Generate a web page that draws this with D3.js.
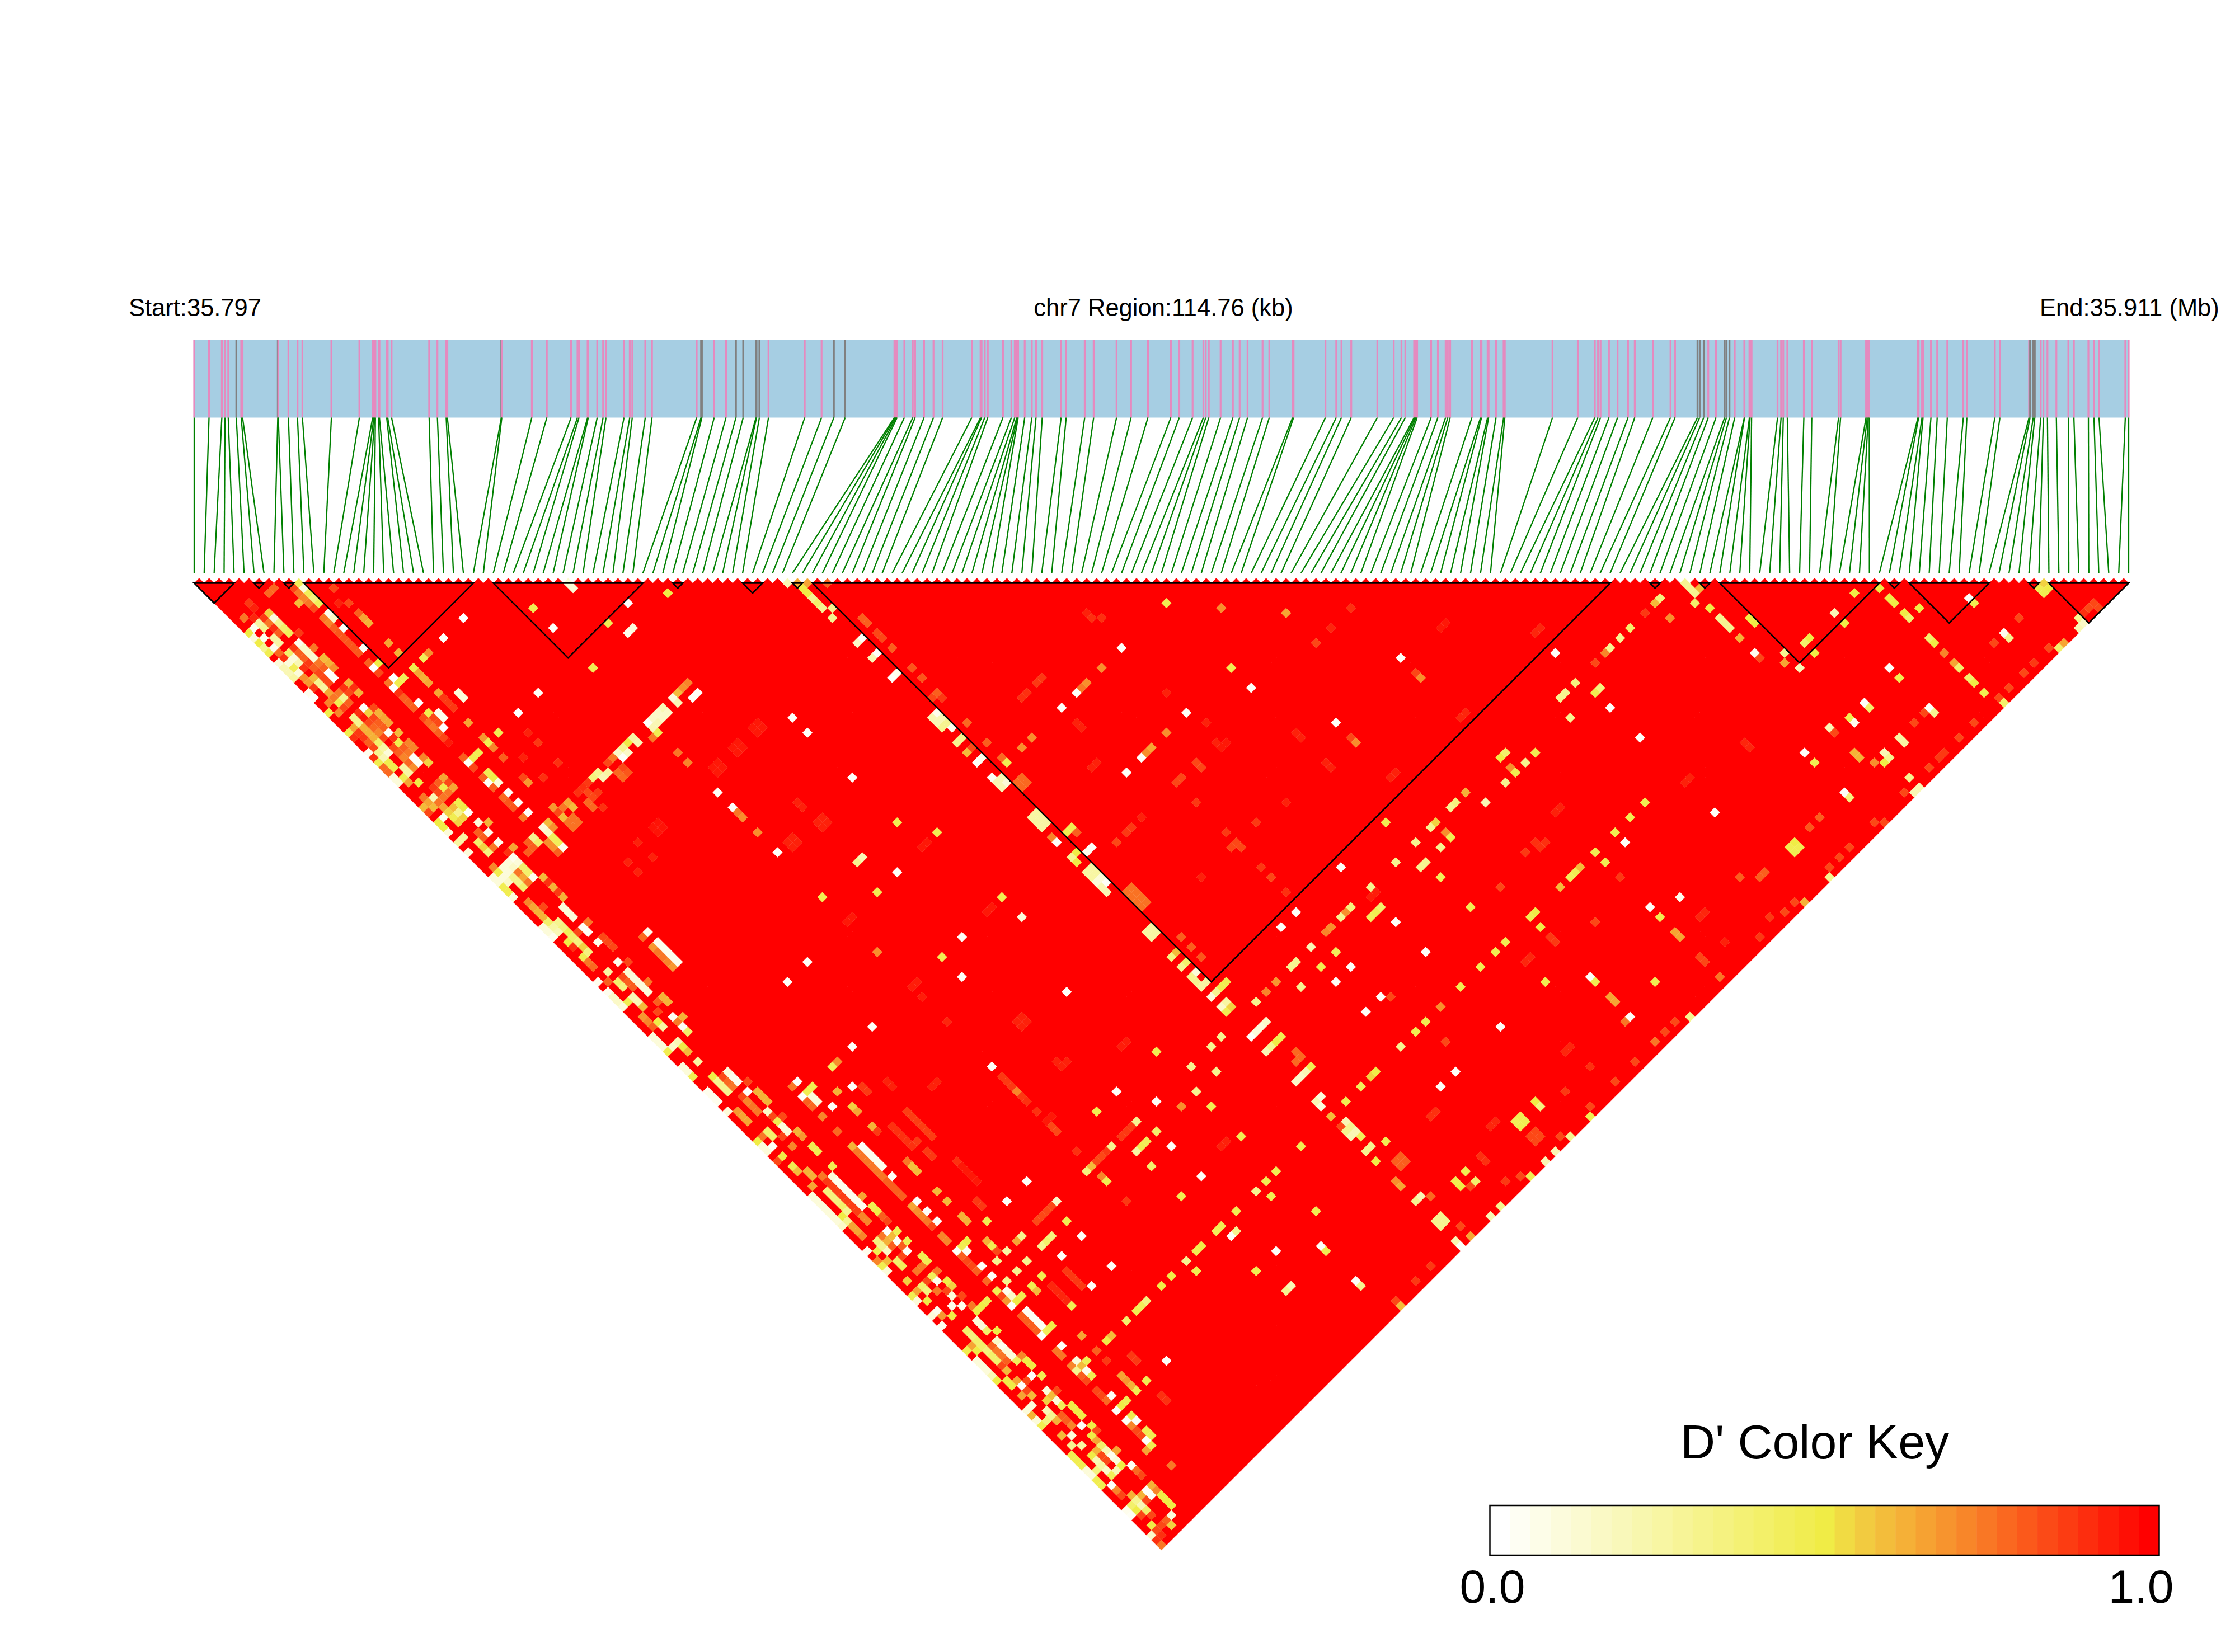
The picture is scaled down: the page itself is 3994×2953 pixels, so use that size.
<!DOCTYPE html>
<html><head><meta charset="utf-8">
<script src="https://cdn.jsdelivr.net/npm/d3@7/dist/d3.min.js"></script>
<style>html,body{margin:0;padding:0;background:#fff}text{font-family:"Liberation Sans",Arial,sans-serif;fill:#000}</style>
</head><body><svg id="c" width="3994" height="2953" xmlns="http://www.w3.org/2000/svg"></svg>
<script>
// SNP physical positions, kb from region start (read from the stripes)
const snpKb=[0,.88,1.64,1.83,2.02,2.5,2.79,2.87,4.96,4.99,5.59,6.13,6.42,8.14,9.8,10.59,10.66,10.71,10.75,10.94,10.99,11.42,11.48,11.71,13.94,14.43,14.95,15.02,18.22,18.25,20.03,20.92,22.36,22.74,22.83,
23.34,23.38,23.91,24.26,24.43,25.5,25.84,25.99,26.76,27.16,29.81,30.07,30.12,30.85,31.55,32.14,32.57,33.33,33.36,33.53,34.07,36.22,37.22,37.95,38.62,41.54,41.58,41.64,41.7,42.13,42.63,42.77,43.3,43.86,44.4,
46.13,46.65,46.71,46.9,47.08,47.98,48.48,48.68,48.8,48.84,48.88,49.27,49.69,49.94,50.31,51.43,51.73,52.83,53.36,54.72,55.58,56.58,57.94,58.44,59.23,59.87,60.01,60.19,60.89,61.62,62.02,62.49,63.38,63.78,65.16,65.22,67.11,67.75,68.06,68.64,
70.19,71.16,71.62,71.85,72.37,72.42,72.48,72.55,73.38,73.78,74.24,74.37,74.51,75.8,76.31,76.37,76.73,76.79,77.23,77.68,77.75,80.58,82.08,83.09,83.28,83.43,83.93,84.44,85.06,85.46,86.53,87.58,87.85,89.18,89.31,89.55,89.82,90.28,90.79,90.9,91.08,91.39,
91.96,91.97,92.26,92.3,92.39,93.93,94.14,94.27,94.51,95.49,95.96,97.55,97.67,99.18,99.25,99.31,99.37,102.26,102.3,102.5,102.56,103.03,103.4,104,104.95,105.16,106.82,107.12,108.85,108.91,109.1,109.19,109.54,109.7,109.94,110.47,111.18,111.51,112.37,112.7,113,114.56,114.76];
const graySnps=[5,8,28,46,47,50,51,52,53,54,58,59,143,144,145,148,149,150,181,182,183];
// LD block spans (SNP indices)
const blockStart=[0,6,9,11,30,48,55,60,62,146,151,153,170,172,184,186];
const blockEnd=[4,7,10,28,45,49,57,61,142,147,152,169,171,180,185,194];
// Every pair not listed reads as D'=1.0. Entries: [snpA, snpB, D']
const pairsTopLeft=[[6,9,.78],[7,9,.78],[10,11,.45],[9,11,.85],[10,12,.1],[9,12,.75],[10,13,.45],[9,13,.72],[10,14,.35],[8,13,.6],[9,14,.75],[10,15,.45],[9,15,.85],[13,15,.85],[12,17,.93],[13,18,.85],[10,17,.05],[10,18,.15],[9,17,.75],[9,18,.72],[10,20,.02],[9,19,.8],[9,20,.82],[9,21,.82],[9,22,.82],[9,23,.82],[9,24,.82],[10,24,.03],[13,20,.8],[13,21,.65],[13,22,.62],[13,26,.65],[13,28,.62],[16,31,.7],[15,31,.45],[23,31,0],[19,31,.02],[31,37,.47],[31,41,.02],[37,38,.12],[37,39,.12],[41,46,0],[37,46,.47],[38,49,.05],[39,49,.1],[46,49,.5],[31,49,.47],[23,46,.02],[19,46,0],[15,46,.47],[13,42,.65],[13,36,.65],[13,37,.88],[13,38,.88],[13,39,.88],[15,38,.1],[15,39,.1],[13,31,.48],[13,32,.65],[13,33,.62],[13,34,.65],[10,30,0],[11,31,.45],[10,31,.48],[9,30,.75],[9,31,0],[9,27,0],[10,27,.5],[9,26,.8],[9,28,.85],[9,32,.9],[9,33,.8],[9,34,.8],[9,35,.8],[10,35,0],[10,37,.48],[9,37,.85],[9,38,.78],[9,39,.75],[9,40,.8],[9,41,.85],[9,42,.95],[11,38,.05],[11,39,.05],[10,38,.85],[10,39,.85],[10,40,0],[13,45,.68],[13,46,.47],[13,47,.72],[11,46,.47],[10,46,.47],[9,46,.02],[9,45,.8],[9,47,.85],[13,49,.8],[15,51,.93],[18,49,.93],[18,51,.88],[18,55,.9],[10,49,.47],[10,50,.5],[9,49,.8],[9,50,.02],[10,51,.1],[9,51,.8],[13,53,.85],[13,54,.68],[15,55,.9],[10,53,.02],[9,53,.78],[9,54,.82],[9,55,.82],[10,55,.02],[10,57,.02],[9,57,.75],[39,60,.72],[38,60,.7],[37,60,.6],[36,60,.1],[36,61,.2],[34,60,.2],[34,61,.15],[33,60,.15],[33,61,.15],[32,60,.15],[32,61,.2],[31,60,.02],[31,61,.2],[31,62,.47],[30,62,.75],[31,66,.75],[31,68,.72],[28,60,.25],[28,61,.2],[27,60,.5],[26,60,.3],[25,60,.15],[25,61,.02],[26,61,.15],[24,60,.75],[23,60,.85],[21,60,.3],[21,61,.2],[20,60,.35],[22,61,.25],[23,62,.78],[23,63,.78],[24,63,.82],[24,62,.85],[17,60,.9],[18,60,.9],[19,60,.88],[18,61,.85],[19,62,.88],[18,62,.85],[17,62,.78],[17,63,.78],[18,64,.9],[15,60,.65],[15,61,.6],[14,60,.75],[13,59,.68],[13,60,.85],[13,61,.6],[11,60,.6],[10,60,.1],[10,61,.15],[11,61,.7],[14,62,.76],[13,62,.76],[14,63,.76],[13,63,.76],[8,60,.3],[8,61,.4],[7,60,.8],[7,61,.8],[10,62,.45],[10,63,.45],[9,62,.7],[9,63,.7],[10,64,.05],[9,64,.8],[6,61,.8]];
const pairsEdgeUpper=[[3,8,.88],[3,9,.93],[1,9,.75],[2,10,.92],[4,11,.55],[3,11,.88],[4,12,.1],[3,12,.75],[4,13,.3],[2,11,.25],[2,12,.3],[1,11,.05],[0,11,.5],[3,13,.9],[4,14,.4],[4,15,.45],[3,14,.8],[5,16,.88],[1,13,.05],[0,12,.1],[0,13,.5],[2,14,.25],[2,15,.25],[0,14,.3],[0,15,.47],[1,15,.05],[2,17,.4],[1,16,.78],[4,17,.05],[4,18,.15],[4,19,.15],[4,20,.12],[3,17,.88],[3,18,.8],[3,19,.8],[5,19,.75],[5,21,.6],[5,22,.62],[5,23,.7],[3,20,.88],[4,21,.75],[3,21,.8],[4,22,.8],[3,22,.85],[0,17,.1],[0,18,.2],[0,19,.2],[0,20,.25],[1,17,.9],[1,18,.1],[1,19,.45],[2,19,.2],[2,20,.9],[1,20,.1],[2,18,.1],[4,23,0],[4,24,.02],[3,23,.85],[3,24,.85],[1,21,.7],[1,22,.68],[2,22,.6],[2,23,.3],[2,24,.25],[2,25,.65],[1,23,.88],[0,23,.05],[0,24,.02],[1,26,.72],[2,26,.75],[2,27,.47],[3,27,.3],[3,26,.75],[4,27,.85],[5,26,.62],[5,27,.9],[5,28,.62],[4,26,.9],[3,28,.8],[2,28,.85],[0,27,.48],[1,28,.72],[4,30,.02],[4,31,.55],[5,31,.85],[5,32,.62],[5,33,.65],[5,34,.65],[3,30,.9],[3,31,.95],[4,32,.85],[4,33,.8],[4,34,.8],[2,30,.3],[2,31,.3],[3,32,.85],[3,33,.78],[3,34,.72],[2,32,.62],[2,33,.62],[2,34,.62],[1,31,.65],[1,32,.88],[1,33,.88],[1,34,.8],[1,35,.85],[0,31,.47],[0,32,.9],[4,35,.02],[3,35,.85],[5,36,.6],[4,36,.9],[4,37,.48],[3,37,.85],[5,38,.72],[5,39,.72],[4,38,.8],[3,38,.8],[4,39,.75],[3,39,.72],[2,35,.4],[2,36,.25],[2,37,.1],[1,36,.3],[1,37,.2],[0,36,.9],[0,37,.47],[1,38,.48],[1,39,.48],[2,40,.25],[2,41,.25],[0,38,.78],[0,39,.78],[0,35,.05],[4,40,.02],[4,41,.03],[3,40,.78],[3,41,.7],[5,41,.72],[5,42,.55],[1,41,.47],[1,42,.65],[2,43,.5],[0,40,.1],[0,41,.1],[5,45,.65],[5,46,.85],[5,47,.65],[4,45,.8],[4,46,.48],[4,47,.75],[3,45,.88],[3,46,.85],[2,46,.2],[1,45,.75],[1,46,.65],[2,47,.75],[3,47,.75],[1,47,.6],[0,46,.6],[0,47,.85],[4,49,.48],[4,50,.5],[4,51,.02],[3,49,.6],[3,50,.3],[3,51,.55],[2,49,.55],[2,50,.47],[2,51,.55],[2,48,.65],[1,49,.05],[0,49,.5],[0,50,.5],[0,51,.1],[4,53,.1],[5,54,.62],[4,55,.05],[3,54,.8],[3,55,.8],[1,53,.25],[0,53,.25],[2,55,.4],[2,56,.55],[2,57,.35],[3,57,.75],[4,57,.05],[0,55,.1],[5,59,.65],[4,59,.9],[1,59,.72],[1,60,.48],[2,60,.1],[3,60,.1],[4,60,.05],[4,61,.1],[4,62,.4],[4,63,.4],[4,64,.05],[3,61,.15],[2,61,.1],[1,61,.1],[0,61,.1],[0,60,.1],[3,62,.75],[3,63,.65],[3,64,.75],[2,62,.3],[2,63,.3],[2,64,.4],[1,62,.15],[0,62,.47],[0,63,.47],[0,64,.1],[5,65,.6],[5,66,.9],[5,67,.62],[5,68,.88],[5,69,.62],[1,66,.72],[1,67,.65],[1,68,.62],[1,69,.62],[1,70,.4],[1,71,.25],[1,72,.2],[2,68,.85],[4,70,.1],[4,71,.1],[4,72,.1],[2,71,.3],[2,72,.35],[2,73,.45],[2,74,.4],[2,75,.35],[2,76,.55],[2,77,.35],[5,74,.75],[4,74,.03],[4,75,.03],[3,74,.85],[4,77,.05],[5,77,.85],[5,78,.85],[5,79,.85],[0,70,.1],[0,71,.1],[0,72,.05],[1,74,.5],[1,75,.9],[1,77,.47],[1,78,.75],[1,79,.78],[10,81,.05],[9,81,.78],[10,83,.05],[10,84,.05],[10,85,.05],[10,86,.05],[10,87,.05],[9,83,.68],[9,84,.75],[9,85,.75],[9,86,.72],[9,87,.68],[4,81,.05],[5,82,.85],[2,81,.25],[4,83,.12],[4,84,.1],[4,85,.1],[4,86,.1],[4,87,.1],[3,83,.85],[3,84,.8],[3,85,.8],[5,86,.75],[1,82,.8],[2,83,.4],[2,84,.35],[0,81,.05],[0,83,.05],[0,84,.15],[0,85,.15],[0,86,.1],[1,86,.47],[2,86,.2],[2,87,.2],[2,88,.6],[5,89,.62],[5,90,.62],[4,89,.8],[3,90,.85],[5,93,.62],[4,92,.03],[4,93,.75],[2,92,.25],[2,91,.5],[1,89,.68],[1,90,.72],[1,91,.8],[0,92,.1],[0,93,.1],[0,94,.1],[0,95,.47],[1,95,.15],[2,95,.2],[2,96,.5],[4,94,.03],[4,95,.4],[2,97,.6],[0,98,.1],[0,99,.1],[0,100,.47]];
const pairsEdgeLower=[[2,99,.25],[4,103,.1],[4,104,.05],[4,105,.05],[3,103,.85],[3,104,.78],[3,105,.75],[2,102,.5],[2,103,.3],[2,104,.3],[2,105,.3],[0,103,.05],[0,104,.05],[0,105,.05],[0,107,.1],[5,106,.85],[4,107,.02],[3,107,.85],[5,108,.62],[5,109,.62],[5,110,.62],[3,108,.72],[3,109,.75],[3,110,.75],[1,108,.68],[1,109,.65],[1,110,.65],[4,111,.15],[4,113,.47],[4,114,.1],[4,115,.1],[4,112,.85],[5,113,.85],[0,113,.5],[0,114,.1],[0,115,.1],[1,115,.02],[1,113,.75],[2,113,.4],[2,114,.4],[3,115,.85],[1,117,.5],[0,117,.85],[5,116,.62],[5,117,.68],[3,117,.72],[5,119,.47],[5,120,.47],[1,119,.47],[1,120,.6],[2,121,.62],[2,122,.62],[5,123,.47],[3,123,.75],[4,124,.1],[4,125,.05],[4,126,.05],[4,127,.05],[4,128,.05],[4,129,.05],[4,130,.05],[5,129,.65],[3,124,.88],[3,125,.87],[3,126,.87],[3,127,.87],[3,128,.87],[3,129,.87],[3,130,.87],[2,125,.35],[2,126,.35],[2,127,.35],[2,128,.4],[2,129,.3],[1,123,.65],[0,124,.1],[0,125,.1],[0,126,.1],[0,127,.1],[0,128,.1],[0,129,.1],[1,130,.3],[1,129,.5],[1,131,.65],[1,132,.65],[1,133,.72],[0,130,.15],[3,131,.72],[3,132,.72],[5,131,.47],[5,132,.5],[5,133,.8],[5,134,.85],[4,135,.02],[5,136,.47],[3,135,.75],[4,136,.6],[4,137,.02],[5,138,.47],[2,135,.35],[3,136,.62],[2,136,.3],[1,136,.47],[2,137,.15],[3,137,.8],[4,138,.8],[4,139,.02],[3,139,.85],[2,139,.4],[2,140,.45],[1,138,.6],[0,137,.72],[0,138,.47],[0,139,.1],[0,135,.05],[5,141,.47],[5,142,.47],[4,142,.75],[3,142,.75],[1,142,.55],[5,144,.75],[4,144,.45],[4,145,.05],[5,146,.5],[5,147,.55],[4,147,.85],[3,144,.85],[2,144,.4],[2,145,.35],[1,144,.65],[0,144,.47],[0,145,.1],[3,146,.75],[1,146,.5],[1,148,.05],[0,148,.1],[1,149,.68],[2,150,.5],[0,150,.05],[4,148,.1],[3,149,.05],[4,150,.05],[5,149,.85],[7,152,.47],[6,152,.5],[5,152,.5],[5,151,.75],[4,153,.1],[4,154,.1],[4,155,.4],[2,153,.4],[2,154,.35],[2,155,.4],[2,156,.4],[5,156,.5],[4,157,.15],[4,158,.05],[4,159,.1],[4,160,.1],[4,161,.45],[5,161,.72],[5,162,.5],[5,163,.5],[3,157,.8],[3,158,.75],[3,159,.75],[3,160,.8],[2,157,.35],[2,158,.4],[2,159,.4],[2,160,.85],[1,155,.65],[0,155,.47],[1,156,.5],[0,157,.1],[0,158,.1],[0,159,.1],[0,160,.2],[0,161,.5],[2,161,.6],[1,162,.5],[1,163,.5],[2,163,.65],[2,164,.02],[3,164,.85],[4,164,.02],[5,165,.47],[1,165,.65],[2,165,.85],[2,166,.6],[4,167,.1],[5,168,.85],[4,168,.6],[3,168,.55],[4,169,.1],[4,170,.45],[1,167,.1],[0,167,.1],[0,168,.62],[0,169,.1],[0,170,.47],[2,169,.2],[2,170,.3],[1,170,.35],[2,171,.62],[1,173,.6],[5,171,.5],[5,172,.5],[5,173,.5],[3,171,.8],[3,172,.8],[3,173,.72],[4,174,.03],[5,175,.5],[5,176,.85],[2,174,.1],[4,176,.5],[4,177,.65],[4,178,.4],[4,179,.2],[4,180,.05],[4,181,.1],[5,180,.65],[1,175,.3],[2,176,.25],[0,176,.47],[0,177,.47],[0,178,.47],[0,179,.1],[0,180,.1],[1,180,.35],[2,180,.25],[2,178,.5],[2,179,.2],[2,181,.15],[2,182,.45],[3,178,.62],[3,179,.85],[3,180,.85],[3,182,.2],[4,182,.5],[5,183,.03],[5,184,.78],[5,185,.85],[0,181,.47],[0,182,.47],[1,183,.02],[1,184,.72],[1,185,.85],[2,186,.62],[3,187,.62],[5,187,.62],[4,187,.02],[4,188,.02],[5,188,.72],[5,189,.5],[5,190,.5],[5,191,.5],[2,187,.3],[2,188,.2],[2,189,.4],[2,190,.85],[3,188,.85],[1,187,.4],[1,188,.5],[1,189,.85],[0,187,.05],[0,188,.03],[1,191,.5],[0,192,.15],[1,192,.85],[2,192,.85],[3,192,.8],[4,192,.1],[3,193,.55],[0,193,.9],[1,193,.9],[0,194,.75]];
const pairsLowerMiddle=[[31,129,.02],[23,144,.02],[19,144,.02],[15,144,.47],[12,149,.3],[14,149,.25],[15,152,.3],[13,152,.3],[11,152,.3],[10,150,.02],[9,150,.78],[10,148,.02],[9,148,.8],[9,152,.47],[9,153,.85],[9,154,.68],[10,153,.05],[10,154,.15],[10,155,.5],[11,155,.47],[9,155,.02],[9,157,.8],[9,158,.8],[9,159,.8],[9,160,.8],[10,157,.03],[10,158,.03],[10,159,.03],[10,160,.03],[10,161,.45],[9,161,.02],[11,161,.5],[15,155,.47],[13,155,.47],[13,156,.6],[15,161,.47],[23,152,.47],[23,155,.02],[19,155,.02],[23,161,.02],[19,161,.02],[24,149,.15],[23,149,.85],[22,149,.85],[17,149,.3],[16,149,.65],[20,152,.35],[19,152,.4],[18,152,.3],[11,144,.5],[10,144,.47],[9,144,.02],[10,145,.03],[9,145,.8],[9,146,.85],[9,147,.85],[9,141,.72],[9,142,.72],[10,137,.02],[10,139,.02],[9,137,.72],[9,138,.75],[9,139,.85],[9,135,.65],[9,136,.7],[10,135,.02],[13,141,.62],[13,142,.62],[13,146,.62],[13,147,.47],[13,148,.85],[37,144,.47],[41,144,.02],[44,149,.02],[40,149,.3],[41,152,.4],[41,155,.02],[39,152,.45],[38,152,.47],[37,152,.25],[37,155,.4],[35,149,.3],[34,149,.88],[30,149,.35],[31,149,.6],[31,151,.72],[31,152,.47],[31,131,.88],[31,132,.88],[31,133,.88],[31,135,.88],[31,134,.72],[31,136,.9],[31,138,.9],[15,117,.02],[15,113,.45],[16,113,.7],[10,111,.02],[9,111,.75],[11,117,.02],[9,117,.72],[11,113,.47],[10,113,.47],[9,113,.02],[10,114,.1],[10,115,.1],[9,114,.8],[9,115,.78],[13,119,.55],[13,120,.65],[13,116,.62],[13,123,.62],[13,124,.88],[9,120,.78],[10,124,.02],[9,123,.62],[9,124,.75],[9,125,.75],[9,126,.75],[9,127,.75],[9,128,.75],[9,129,.75],[10,125,.05],[10,126,.05],[10,127,.05],[10,128,.05],[10,130,.02],[9,130,.8],[9,131,.8],[9,132,.8],[9,133,.8],[13,130,.75],[13,131,.58],[13,132,.6],[13,136,.6],[13,138,.6],[19,168,.4],[16,168,.6],[15,168,.5],[15,176,.47],[19,176,.02],[21,168,.47],[22,168,.45],[23,168,.35],[26,168,.5],[28,168,.5],[10,164,.02],[9,164,.75],[9,165,.75],[13,165,.65],[10,167,.1],[10,168,.6],[11,168,.47],[9,167,.72],[9,168,.3],[9,169,.8],[10,169,.05],[10,170,.47],[9,170,.85],[13,173,.65],[13,174,.68],[13,175,.62],[13,176,.47],[10,174,.02],[9,174,.78],[9,172,.85],[9,173,.85],[9,176,.02],[10,176,.5],[11,176,.47],[9,178,.02],[10,178,.47],[10,179,.02],[9,179,.72],[9,180,.85],[9,181,.85],[10,181,.47],[10,182,.47],[9,182,.02],[9,183,.47],[8,183,.65],[9,187,.75],[13,168,.8],[13,170,.88]];
const pairsBlockEdge=[[60,61,.65],[60,62,.5],[60,63,.5],[60,64,.3],[60,65,.4],[60,66,.3],[60,68,.3],[61,67,.3],[61,73,.02],[60,73,.15],[60,76,.2],[61,76,.02],[63,71,.8],[63,72,.8],[63,74,.85],[63,75,.85],[63,77,.8],[60,80,.02],[61,80,.05],[63,81,.82],[63,83,.82],[63,86,.8],[62,86,.85],[63,87,.88],[61,88,.05],[60,88,.2],[60,89,.2],[61,89,.2],[60,90,.3],[61,90,.3],[61,91,.05],[61,93,.3],[60,93,.3],[63,92,.78],[60,95,.6],[61,95,.85],[63,96,.8],[60,97,.02],[61,97,.05],[63,100,.47],[63,99,.78],[63,104,.78],[62,104,.78],[63,103,.78],[62,103,.78],[60,100,.03],[60,102,.2],[60,101,.2],[61,102,.1],[61,101,.2],[60,108,.25],[61,108,.25],[60,109,.25],[61,109,.25],[60,110,.25],[61,110,.25],[63,113,.47],[62,113,.47],[63,114,.8],[60,113,.02],[60,112,.72],[63,117,.02],[62,117,.05],[60,116,.3],[61,116,.5],[60,117,.5],[60,119,.25],[61,119,.25],[60,120,.25],[61,120,.25],[60,121,.1],[61,121,.1],[60,122,.2],[61,122,.02],[60,123,.2],[63,125,.76],[63,126,.76],[63,127,.76],[63,128,.76],[62,125,.76],[62,126,.76],[62,127,.76],[62,128,.76],[61,131,.25],[60,131,.25],[60,132,.25],[61,132,.25],[60,136,.35],[61,136,.6],[60,138,.3],[61,138,.4],[61,140,.1],[60,140,.3],[61,142,.25],[60,142,.25],[60,141,.3],[63,135,.8],[63,137,.8],[63,139,.82],[63,144,.47],[61,144,.3],[62,144,.47],[60,144,.1],[61,146,.25],[61,147,.55],[60,147,.47],[60,146,.15],[60,152,.02],[61,152,.1],[62,152,.1],[63,152,.15],[63,155,.47],[62,155,.5],[60,155,.2],[61,155,.3],[63,158,.78],[63,159,.78],[62,159,.78],[63,161,.47],[61,161,.15],[62,161,.2],[60,161,.15],[60,165,.2],[61,165,.1],[60,166,.1],[63,168,.47],[60,168,.6],[61,170,.2],[61,171,.3],[60,171,.3],[60,172,.2],[61,172,.2],[61,173,.45],[60,175,.3],[61,175,.3],[63,176,.47],[60,177,.5],[62,179,.8],[63,179,.8],[62,180,.8],[63,180,.8],[60,181,.7],[60,182,.65],[60,185,.3],[61,185,.2],[62,186,.78],[60,189,.3],[61,190,.3],[60,190,.3],[61,189,.3],[62,192,.85],[62,194,.65],[60,193,.2],[60,194,.02]];
const pairsScattered=[[95,100,.47],[100,106,.7],[106,113,.65],[86,100,.02],[95,113,.47],[95,117,.02],[74,100,.02],[86,113,.02],[100,129,.02],[82,100,.7],[77,100,.02],[78,100,.75],[79,100,.7],[82,113,.7],[100,133,.7],[100,132,.85],[68,100,.7],[66,100,.7],[77,113,.02],[78,113,.7],[79,113,.65],[74,113,.02],[46,86,.02],[46,74,.02],[46,77,.02],[31,86,.02],[31,74,.02],[31,77,.02],[31,78,.75],[31,79,.7],[31,82,.7],[46,95,.47],[49,100,.47],[38,95,.3],[39,95,.2],[41,100,.02],[37,100,.47],[31,95,.47],[49,113,.47],[49,117,.1],[41,113,.02],[31,106,.7],[37,113,.47],[37,117,.02],[23,100,.02],[19,100,.02],[46,129,.02],[23,113,.02],[19,113,.02],[64,149,.3],[70,152,.3],[74,155,.02],[77,152,.45],[77,155,.02],[74,152,.47],[71,149,.3],[72,149,.3],[75,149,.2],[74,144,.02],[77,144,.02],[86,144,.02],[81,149,.3],[82,149,.7],[83,149,.35],[78,149,.72],[79,149,.7],[68,149,.68],[66,149,.72],[57,149,.3],[55,149,.3],[49,144,.47],[51,149,.3],[53,152,.3],[39,62,.02],[38,62,.02],[113,129,.02],[129,144,.02],[113,133,.7],[113,132,.85],[125,149,.3],[126,149,.3],[128,149,.35],[129,152,.47],[130,152,.35],[129,155,.02],[124,152,.3],[129,161,.02],[144,152,.7],[139,149,.4],[137,149,.3],[135,149,.3],[134,149,.72],[132,149,.85],[142,149,.88],[144,149,.6],[145,149,.35],[149,150,.3],[149,151,.3],[149,152,.3],[148,153,.4],[149,155,.5],[149,157,.3],[149,158,.3],[149,159,.3],[150,152,.6],[149,161,.62],[152,160,.5],[152,161,.5],[152,167,.3],[149,164,.05],[149,165,.85],[156,168,.5],[155,168,.4],[155,170,.5],[152,170,.2],[151,168,.65],[161,168,.2],[161,170,.5],[165,168,.5],[168,170,.5],[168,172,.5],[168,173,.5],[168,175,.5],[168,176,.4],[170,176,.5],[168,180,.4],[168,181,.5],[168,186,.4],[168,188,.4],[168,189,.5],[168,183,.72],[168,185,.65],[168,191,.47],[176,180,.02],[176,181,.47],[176,187,.05],[176,188,.3],[179,187,.85],[174,187,.85],[184,187,.47],[184,186,.47],[185,187,.5],[185,186,.55],[184,194,.2],[185,193,.3],[185,194,.15],[188,193,.85],[186,193,.9],[188,194,.85],[187,193,.85],[161,179,.02],[161,181,.47],[155,180,.02],[155,181,.4],[161,187,.02],[161,188,.3],[152,180,.47],[152,181,.05],[149,179,.2],[149,180,.85],[155,187,.25],[155,188,.25],[158,187,.85],[160,187,.85],[151,188,.5],[152,187,.2],[150,187,.7],[152,188,.3],[149,184,.62],[149,185,.62],[144,179,.02],[144,181,.47],[144,187,.02],[144,188,.35],[152,192,.3],[152,194,.2],[151,194,.2],[133,187,.47],[134,187,.5],[134,188,.47],[133,188,.47],[139,187,.8],[137,187,.82],[129,176,.02],[123,168,.47],[120,168,.47],[117,168,.47],[117,170,.02],[113,168,.47],[113,170,.47],[108,168,.45],[109,168,.47],[110,168,.6],[106,168,.6],[117,181,.05],[113,179,.02],[113,181,.47],[100,168,.47],[101,168,.5],[100,170,.5],[95,161,.47],[107,152,.2],[117,152,.47],[115,152,.3],[113,151,.7],[113,152,.47],[111,152,.3],[113,149,.5],[114,149,.4],[103,149,.3],[104,149,.35],[106,149,.62],[95,144,.47],[99,149,.3],[100,149,.55],[100,151,.7],[100,152,.47],[96,149,.3],[98,152,.3],[92,149,.3],[94,152,.3],[95,152,.3],[95,155,.45],[87,149,.3],[84,152,.45],[85,152,.47],[86,152,.4],[86,155,.02],[86,161,.02],[93,168,.47],[95,168,.47],[90,168,.47],[95,176,.47],[86,168,.47],[100,180,.02],[100,181,.47],[106,187,.47],[100,184,.65],[100,185,.65],[82,168,.7],[77,161,.02],[74,161,.02],[100,188,.02],[99,188,.75],[86,176,.02],[77,168,.47],[79,168,.47],[77,176,.02],[74,176,.02],[74,168,.3],[66,168,.45],[68,168,.55],[69,168,.5],[49,152,.3],[49,155,.47],[46,152,.7],[49,161,.47],[54,168,.47],[49,168,.47],[45,168,.3],[47,168,.47],[46,170,.47],[49,176,.47],[41,161,.02],[37,161,.47],[41,168,.47],[37,168,.45],[38,168,.47],[38,170,.02],[39,170,.3],[33,168,.47],[34,168,.5],[41,176,.02],[46,180,.02],[46,181,.47],[31,168,.3],[31,170,.47],[37,176,.47],[38,181,.3],[39,181,.2],[46,187,.02],[46,188,.3],[68,187,.47],[68,189,.4],[66,187,.47],[66,188,.5],[79,187,.47],[78,187,.45],[79,188,.47],[78,188,.47],[82,187,.5],[82,188,.35],[79,190,.85],[78,190,.85],[79,191,.85],[78,191,.85],[59,60,.2],[61,62,.65],[63,64,.8],[149,150,.3]];
const pairsRightEdge=[[181,194,.65],[180,194,.4],[179,193,.85],[176,193,.88],[174,193,.85],[171,193,.85],[169,194,.4],[169,193,.85],[164,193,.85],[161,193,.85],[158,193,.88],[157,193,.88],[155,193,.85],[150,193,.85],[144,193,.85],[145,194,.85],[139,193,.85],[137,193,.85],[134,194,.3],[135,193,.85],[129,194,.62],[126,193,.85],[128,193,.85],[124,192,.88],[121,193,.88],[113,193,.75],[106,194,.3],[104,193,.85],[102,193,.85],[100,193,.75],[96,193,.85],[92,193,.85],[86,194,.47],[87,193,.85],[82,194,.3],[81,193,.85],[79,194,.2],[77,194,.2],[74,194,.47],[73,193,.85],[71,192,.88],[68,194,.3],[66,194,.2],[55,193,.88],[52,193,.88],[48,194,.6],[48,193,.85]];
const pairsFaint=[[22,72,.96],[22,71,.96],[21,71,.96],[21,72,.96],[18,71,.93],[15,72,.93],[18,74,.93],[15,74,.93],[86,109,.93],[78,119,.85],[78,131,.85],[71,119,.93],[78,141,.9],[71,131,.93],[38,127,.93],[38,128,.93],[39,127,.93],[39,128,.93],[87,132,.93],[78,162,.85],[79,172,.85],[79,119,.85],[31,100,.95],[32,100,.95],[46,100,.95],[47,100,.95],[46,113,.95],[47,113,.95],[31,113,.94],[32,113,.94],[86,120,.95],[87,120,.95],[95,132,.93],[95,133,.93],[100,140,.93],[101,140,.93],[113,141,.92],[114,141,.92],[120,130,.95],[121,130,.95],[129,140,.92],[130,140,.92],[86,150,.94],[87,150,.94],[95,172,.92],[96,172,.92],[113,160,.93],[114,160,.93],[129,170,.93],[130,170,.93],[139,172,.92],[139,173,.92],[31,115,.94],[31,120,.92],[19,120,.93],[19,121,.93],[23,125,.93],[24,125,.93],[31,140,.95],[32,140,.95],[46,140,.94],[47,140,.94],[46,160,.93],[47,160,.93],[60,170,.85],[70,178,.9],[71,178,.9],[75,185,.92],[76,185,.92],[90,185,.92],[91,185,.92],[117,185,.92],[118,185,.92],
[16,118,.88],[16,119,.88],[18,125,.87],[18,126,.87],[18,127,.87],[18,128,.87],[18,129,.87],[18,130,.87],[15,125,.9],[15,126,.9],[15,127,.9],[15,128,.9],[15,129,.9],[16,129,.88],[16,131,.88],[16,132,.88],[18,135,.9],[18,136,.95],[18,137,.95],[18,138,.95],[18,139,.95],[16,141,.88],[16,142,.88],[31,141,.85],[31,142,.85],[31,146,.9],[31,156,.88],[20,149,.85],[21,149,.85],[32,149,.85],[33,149,.85],[37,149,.88],[38,149,.88],[39,149,.88],[18,157,.88],[18,158,.88],[18,159,.88],[18,160,.88],[15,157,.92],[15,158,.92],[15,159,.92],[15,160,.92],[16,172,.88],[16,173,.88],[15,179,.9],[15,180,.9],[38,135,.93],[38,136,.93],[39,136,.93],[71,109,.93],[72,109,.93],[68,119,.88],[69,119,.88],[66,119,.85],[78,138,.85],[78,136,.88],[77,131,.85],[78,132,.85],[78,129,.88],[82,131,.88],[82,120,.85],[82,119,.85],[78,123,.88],[74,103,.93],[74,104,.93],[86,94,.9],[87,95,.9],[86,93,.93],[113,119,.9],[109,119,.92],[106,119,.85],[95,127,.93],[95,126,.93],[87,116,.93],[86,119,.93],[71,95,.9],[72,95,.9],[74,95,.88],[75,95,.88],[38,87,.93],[38,88,.93],[39,87,.93],[39,88,.93],[33,86,.93],[33,87,.93],[34,86,.93],[34,87,.93],[38,71,.95],[38,72,.95],[37,71,.95],[37,72,.95],[33,71,.95],[33,72,.95],[34,71,.95],[34,72,.95],[42,71,.95],[42,72,.95],[41,71,.95],[41,72,.95],[38,83,.93],[38,84,.93],[108,161,.9],[108,162,.9],[109,162,.9],[106,161,.88],[100,162,.85],[106,175,.85],[100,172,.88],[100,173,.88],[113,173,.88],[127,187,.8],[128,187,.8],[125,185,.8],[113,184,.65],[113,185,.65],[113,190,.85],[113,189,.85],[117,190,.93],[71,188,.9],[71,187,.9],[67,189,.85],[91,189,.9],[86,189,.88]];
const pairGroups=[pairsFaint,pairsTopLeft,pairsEdgeUpper,pairsEdgeLower,pairsLowerMiddle,pairsBlockEdge,pairsScattered,pairsRightEdge];
const tickLabels=["0.0","1.0"];
const legendSteps=33;

const svg=d3.select("#c");
const topY=1042.4,bandTop=608,bandBot=746.5,lineBot=1024.5;
const xPos=d3.scaleLinear().domain([0,114.76]).range([347,3804]);
const xIdx=d3.scaleLinear().domain([0,snpKb.length-1]).range([347,3804]);
const step=xIdx(1)-xIdx(0);
const color=d3.scaleLinear().domain([0,.5,.56,.7,1]).range(["#ffffff","#f0ec46","#f2cc40","#f88f2c","#ff0000"]);

svg.append("rect").attr("x",xPos(0)).attr("y",bandTop).attr("width",xPos(114.76)-xPos(0)).attr("height",bandBot-bandTop).attr("fill","#a6cee3");
svg.append("g").selectAll("rect").data(snpKb).join("rect")
 .attr("x",d=>xPos(d)-1.6).attr("y",bandTop-1).attr("width",3.2).attr("height",bandBot-bandTop+1)
 .attr("fill",(d,i)=>graySnps.includes(i)?"#808080":"#e58abf");
svg.append("g").selectAll("line").data(snpKb).join("line")
 .attr("x1",d=>xPos(d)).attr("y1",bandBot).attr("x2",(d,i)=>xIdx(i)).attr("y2",lineBot)
 .attr("stroke","#008000").attr("stroke-width",2.3);

// D' matrix
const low=new Map();
pairGroups.flat().forEach(([a,b,d])=>low.set(a*1000+b,d));
const red=[],other=[];
for(let a=0;a<snpKb.length;a++)for(let b=a+1;b<snpKb.length;b++){
  const d=low.get(a*1000+b);
  (d===undefined?red:other).push({a,b,d:d===undefined?1:d});
}
const h=step/2;
const diamond=p=>{const cx=(xIdx(p.a)+xIdx(p.b))/2,cy=topY+(p.b-p.a-1)*h;
  return d3.line()([[cx,cy-h],[cx+h,cy],[cx,cy+h],[cx-h,cy]])+"Z";};
svg.append("path").attr("d",red.map(diamond).join("")).attr("fill",color(1)).attr("stroke",color(1)).attr("stroke-width",.5);
svg.append("g").selectAll("path").data(other).join("path")
 .attr("d",diamond).attr("fill",d=>color(d.d)).attr("stroke",d=>color(d.d)).attr("stroke-width",.3);

// LD blocks
svg.append("g").selectAll("path").data(blockStart.map((s,i)=>[s,blockEnd[i]])).join("path")
 .attr("d",([s,e])=>d3.line()([[xIdx(s),topY],[xIdx(e),topY],[(xIdx(s)+xIdx(e))/2,topY+(e-s)*h]])+"Z")
 .attr("fill","none").attr("stroke","#000").attr("stroke-width",2.6);

// Labels
const txt=(x,y,s,size,anchor)=>svg.append("text").attr("x",x).attr("y",y).attr("font-size",size).attr("text-anchor",anchor).text(s);
txt(230,564.5,"Start:35.797",43.5,"start");
txt(2079,564.5,"chr7 Region:114.76 (kb)",43.5,"middle");
txt(3645,564.5,"End:35.911 (Mb)",43.5,"start");

// Colour key
const lx=d3.scaleLinear().domain([0,1]).range([2662.5,3858.5]);
const bins=d3.range(legendSteps);
svg.append("g").selectAll("rect").data(bins).join("rect")
 .attr("x",k=>lx(k/legendSteps)).attr("y",2691).attr("width",lx(1/legendSteps)-lx(0)+.5).attr("height",89)
 .attr("fill",k=>color(k/(legendSteps-1)));
svg.append("rect").attr("x",lx(0)).attr("y",2691).attr("width",lx(1)-lx(0)).attr("height",89).attr("fill","none").attr("stroke","#000").attr("stroke-width",2.5);
txt(3243,2607,"D' Color Key",86,"middle");
txt(2667,2865,tickLabels[0],84,"middle");
txt(3826,2865,tickLabels[1],84,"middle");
</script></body></html>
